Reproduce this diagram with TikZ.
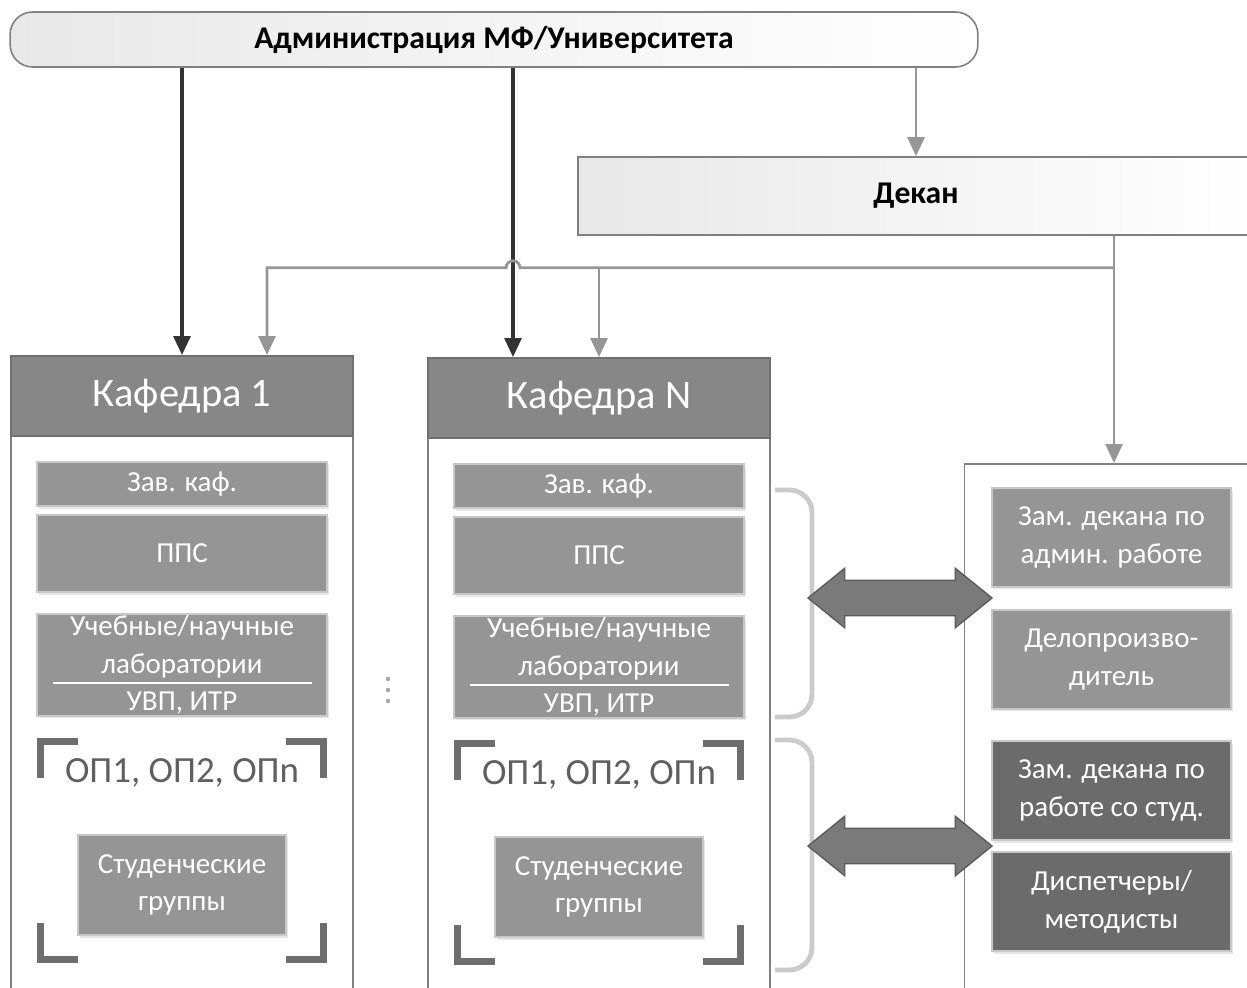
\documentclass[tikz,border=0pt]{standalone}
\usepackage{fontspec}
\setmainfont{Carlito}
\usepackage{xcolor}
\usepackage{tikz}
\usetikzlibrary{shapes,arrows.meta,calc,shadows,positioning}

\definecolor{headgray}{HTML}{878787}
\definecolor{headborder}{HTML}{707070}
\definecolor{unitgray}{HTML}{959595}
\definecolor{unitdark}{HTML}{6B6B6B}
\definecolor{unitborder}{HTML}{C8C8C8}
\definecolor{linegray}{HTML}{969696}
\definecolor{framegray}{HTML}{808080}
\definecolor{cornergray}{HTML}{6E6E6E}
\definecolor{bracegray}{HTML}{CBCBCB}
\definecolor{linkgray}{HTML}{7A7A7A}
\definecolor{linkborder}{HTML}{5C5C5C}
\definecolor{optext}{HTML}{5F5F5F}

\begin{document}
\begin{tikzpicture}[x=0.02cm,y=-0.02cm]
        % Styles for boxes and lines
        \tikzstyle{topbox}=[draw=framegray, line width=0.9pt, left color=gray!18, right color=white, font=\fontsize{18}{22}\selectfont\bfseries];
        \tikzstyle{framebox}=[draw=framegray, line width=0.9pt, minimum width=6.84cm, minimum height=14cm, anchor=north];
        \tikzstyle{headbox}=[draw=headborder, line width=0.9pt, fill=headgray, text=white, minimum width=6.84cm, minimum height=1.6cm, anchor=north, font=\fontsize{23}{27}\selectfont];
        \tikzstyle{unitbox}=[draw=unitborder, line width=0.8pt, fill=unitgray, text=white, inner sep=0pt, align=center, font=\fontsize{16.5}{21.5}\selectfont, drop shadow={shadow xshift=0.04cm, shadow yshift=-0.05cm, opacity=0.2}];
        \tikzstyle{darkbox}=[unitbox, fill=unitdark];
        \tikzstyle{optext}=[text=optext, font=\fontsize{21}{25}\selectfont];
        \tikzstyle{cornerline}=[cornergray, line width=4.2pt];
        \tikzstyle{braceline}=[bracegray, line width=2.8pt, rounded corners=0.45cm];
        \tikzstyle{linkarrow}=[double arrow, fill=linkgray, draw=linkborder, line width=0.8pt, inner xsep=0pt, inner ysep=0.34cm, minimum width=1.16cm, minimum height=3.68cm, double arrow head extend=0.24cm, double arrow tip angle=78];
        \tikzstyle{grayline}=[linegray, line width=1.6pt, -{Triangle[width=0.34cm,length=0.38cm]}];
        \tikzstyle{darkline}=[black!80, line width=1.8pt, -{Triangle[width=0.34cm,length=0.38cm]}];

        \useasboundingbox (0,0) rectangle (1247,987);

        % Administration and dean
        \node[topbox, minimum width=19.36cm, minimum height=1.1cm, rounded corners=0.45cm] (admin) at (494,39.5) {Администрация МФ/Университета};
        \node[topbox, minimum width=13.52cm, minimum height=1.56cm] (dean) at (916,196) {Декан};

        % First department
        \node[framebox] (dep1) at (182,355) {};
        \node[headbox] (head1) at (182,355) {Кафедра 1};
        \node[unitbox, minimum width=5.8cm, minimum height=0.88cm] (zav1) at (182,484) {Зав. каф.};
        \node[unitbox, minimum width=5.8cm, minimum height=1.54cm] (pps1) at (182,553.5) {ППС};
        \node[unitbox, minimum width=5.8cm, minimum height=2.04cm] (lab1) at (182,665) {Учебные/научные\\лаборатории\\УВП, ИТР};
        \draw[white, line width=1.2pt] ($(lab1.south west)+(17,-34)$) -- ($(lab1.south east)+(-16,-34)$);
        \node[optext] (op1) at (182,773) {ОП1, ОП2, ОПn};
        \node[unitbox, minimum width=4.16cm, minimum height=2cm] (stud1) at (182,885) {Студенческие\\группы};
        \draw[cornerline] (78,741.5) -- (40.5,741.5) -- (40.5,778);
        \draw[cornerline] (286,741.5) -- (323.5,741.5) -- (323.5,778);
        \draw[cornerline] (40.5,923) -- (40.5,959.5) -- (78,959.5);
        \draw[cornerline] (323.5,923) -- (323.5,959.5) -- (286,959.5);

        % Dots between the departments
        \fill[gray!70] (388,679) circle (0.045cm) (388,690) circle (0.045cm) (388,701) circle (0.045cm);

        % Last department
        \node[framebox] (depN) at (599,357) {};
        \node[headbox] (headN) at (599,357) {Кафедра N};
        \node[unitbox, minimum width=5.8cm, minimum height=0.88cm] (zavN) at (599,486) {Зав. каф.};
        \node[unitbox, minimum width=5.8cm, minimum height=1.54cm] (ppsN) at (599,555.5) {ППС};
        \node[unitbox, minimum width=5.8cm, minimum height=2.04cm] (labN) at (599,667) {Учебные/научные\\лаборатории\\УВП, ИТР};
        \draw[white, line width=1.2pt] ($(labN.south west)+(17,-34)$) -- ($(labN.south east)+(-16,-34)$);
        \node[optext] (opN) at (599,775) {ОП1, ОП2, ОПn};
        \node[unitbox, minimum width=4.16cm, minimum height=2cm] (studN) at (599,887) {Студенческие\\группы};
        \draw[cornerline] (495,743.5) -- (457.5,743.5) -- (457.5,780);
        \draw[cornerline] (703,743.5) -- (740.5,743.5) -- (740.5,780);
        \draw[cornerline] (457.5,925) -- (457.5,961.5) -- (495,961.5);
        \draw[cornerline] (740.5,925) -- (740.5,961.5) -- (703,961.5);

        % Dean's office
        \node[framebox, minimum width=5.98cm, minimum height=11cm] (office) at (1114,463) {};
        \node[unitbox, minimum width=4.78cm, minimum height=1.98cm] (vice1) at (1111.5,537.5) {Зам. декана по\\админ. работе};
        \node[unitbox, minimum width=4.78cm, minimum height=1.98cm] (clerk) at (1111.5,659.5) {Делопроизво-\\дитель};
        \node[darkbox, minimum width=4.78cm, minimum height=1.98cm] (vice2) at (1111.5,790.5) {Зам. декана по\\работе со студ.};
        \node[darkbox, minimum width=4.78cm, minimum height=1.98cm] (disp) at (1111.5,901.5) {Диспетчеры/\\методисты};

        % Braces and links to the dean's office
        \draw[braceline] (775,490) -- (812,490) -- (812,717) -- (775,717);
        \draw[braceline] (775,740) -- (812,740) -- (812,970) -- (775,970);
        \node[linkarrow] (link1) at (900,598) {};
        \node[linkarrow] (link2) at (900,846) {};

        % Lines from the administration
        \coordinate (inN) at ($(headN.north)+(-86,0)$);
        \draw[darkline] (admin.south -| head1.north) -- (head1.north);
        \draw[darkline] (admin.south -| inN) -- (inN);
        \draw[grayline] (admin.south -| dean.north) -- (dean.north);

        % Lines from the dean
        \coordinate (bus) at ($(dean.south -| office.north)+(0,32)$);
        \coordinate (in1) at ($(head1.north)+(85,0)$);
        \draw[grayline] (dean.south -| office.north) -- (office.north);
        \draw[grayline] (bus) -- ($(bus -| inN)+(7,0)$) arc[start angle=0, end angle=180, radius=0.14cm] -- (bus -| in1) -- (in1);
        \draw[grayline] (bus -| headN.north) -- (headN.north);
\end{tikzpicture}
\end{document}
